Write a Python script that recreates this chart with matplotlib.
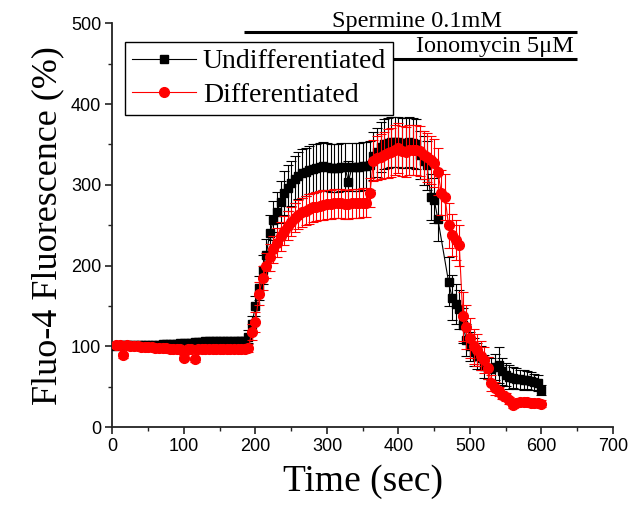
import matplotlib
matplotlib.use("Agg")
import matplotlib.pyplot as plt
from matplotlib.lines import Line2D
from matplotlib.ticker import MultipleLocator

# ---------------- data ----------------
time_d = list(range(5, 601, 5))
time_u = list(range(5, 456, 5)) + list(range(470, 601, 5))

undiff = [100, 101, 101, 101, 101, 101, 102, 102, 102, 102, 102, 102,
          102, 103, 103, 103, 103, 103, 104, 104, 104, 104, 105, 105,
          105, 106, 106, 106, 106, 106, 106, 106, 106, 106, 107, 107, 107,
          112, 128, 150, 172, 195, 213, 240, 256, 266, 279, 290,
          296, 302, 307, 311, 314, 316, 318, 320, 321, 322, 323, 322,
          321, 321, 321, 322, 322, 304, 322, 322, 322, 323, 323, 324,
          336, 340, 347, 350, 352, 353, 353, 353, 352, 352, 353, 352,
          351, 337, 330, 324, 285, 281, 258,
          180, 160, 152, 146, 126, 108, 100, 93, 88, 85, 75, 73, 72, 74, 77,
          69, 65, 62, 61, 60, 59, 58, 58, 57, 56, 55, 46]
undiff_err = [3] * 18 + [4] * 19 + \
             [8, 10, 12, 15, 18, 20, 22, 24, 25, 26, 27,
              28, 28, 29, 29, 30, 30, 30, 30, 30, 30, 30, 30,
              30, 30, 30, 30, 30, 25, 30, 30, 30, 30, 30, 30,
              30, 30, 31, 31, 31, 31, 31, 31, 31, 31, 31, 31,
              31, 30, 30, 30, 28, 28, 28,
              30, 28, 25, 24, 22, 20, 18, 17, 16, 15, 14, 14, 14, 16, 22,
              17, 14, 15, 13, 13, 12, 12, 11, 11, 10, 10, 6]

diff = [102, 101, 89, 101, 100, 100, 100, 99, 99, 99, 99, 98,
        98, 98, 98, 97, 97, 97, 97, 86, 97, 96, 84, 96,
        96, 96, 96, 96, 96, 96, 96, 96, 96, 96, 96, 96, 96,
        98, 118, 130, 165, 185, 200, 210, 220, 228, 236, 243,
        249, 254, 259, 263, 266, 268, 270, 272, 273, 274, 275, 276,
        276, 277, 277, 277, 276, 276, 277, 277, 277, 278, 278, 290,
        330, 333, 335, 337, 339, 340, 343, 345, 342, 341, 343, 343,
        343, 342, 337, 334, 331, 327, 316, 290, 285, 250, 238, 232,
        225, 137, 124, 110, 100, 95, 88, 83, 73, 54, 48, 44,
        40, 37, 33, 27, 30, 31, 31, 31, 30, 30, 30, 29]
diff_err = [3] * 37 + \
           [5, 10, 12, 14, 15, 16, 17, 17, 18, 18, 18] + [18] * 24 + \
           [25, 27, 28, 29, 30, 30, 31, 31, 31, 31, 31, 31,
            31, 31, 30, 30, 30, 30, 29, 28, 28, 28, 26, 25,
            25, 30, 27, 25, 22, 20, 18, 16, 14, 10, 8, 6,
            5, 5, 4, 4, 4, 4, 4, 4, 4, 4, 4, 4]

series_labels = ["Undifferentiated", "Differentiated"]
spermine_span = (184, 649, 489)
ionomycin_span = (355, 649, 456)

x_ticks = [0, 100, 200, 300, 400, 500, 600, 700]
y_ticks = [0, 100, 200, 300, 400, 500]

# ---------------- figure ----------------
fig = plt.figure(figsize=(6.42, 5.09), dpi=100)
ax = fig.add_axes([0.1752, 0.1611, 0.7796, 0.7931])

ax.errorbar(time_u, undiff, yerr=undiff_err, fmt='-s', color='black',
            ms=5.5, lw=0.8, elinewidth=0.8, capsize=3.5, capthick=0.8, zorder=3)
ax.errorbar(time_d, diff, yerr=diff_err, fmt='-o', color='red',
            ms=7, lw=0.8, elinewidth=0.8, capsize=3.5, capthick=0.8, zorder=4)

# treatment bars
ax.plot(spermine_span[:2], [spermine_span[2]] * 2, color='black', lw=2.2,
        clip_on=False, zorder=2, solid_capstyle='butt')
ax.plot(ionomycin_span[:2], [ionomycin_span[2]] * 2, color='black', lw=2.2,
        clip_on=False, zorder=2, solid_capstyle='butt')
ax.text(426, 496, "Spermine 0.1mM", ha='center', va='baseline',
        fontfamily='Liberation Serif', fontsize=17.5, clip_on=False)
ax.text(645, 464, "Ionomycin 5\u03bcM", ha='right', va='baseline',
        fontfamily='Liberation Serif', fontsize=17.5, clip_on=False)

ax.set_xlim(x_ticks[0], x_ticks[-1])
ax.set_ylim(y_ticks[0], y_ticks[-1])
ax.set_xticks(x_ticks)
ax.set_yticks(y_ticks)
ax.xaxis.set_minor_locator(MultipleLocator(50))
ax.yaxis.set_minor_locator(MultipleLocator(50))

for s in ['top', 'right']:
    ax.spines[s].set_visible(False)
for s in ['left', 'bottom']:
    ax.spines[s].set_linewidth(1.3)
    ax.spines[s].set_color('#222222')

ax.tick_params(which='major', direction='out', length=5, width=1.2, color='#222222',
               labelsize=13, pad=3)
ax.tick_params(which='minor', direction='out', length=3, width=1.0, color='#222222')
for lab in ax.get_xticklabels() + ax.get_yticklabels():
    lab.set_fontfamily('Liberation Sans')

ax.set_xlabel("Time (sec)", fontfamily='Liberation Serif', fontsize=27, labelpad=7)
ax.set_ylabel("Fluo-4 Fluorescence (%)", fontfamily='Liberation Serif', fontsize=26, labelpad=5)

handles = [Line2D([], [], color='black', marker='s', ms=5.5, lw=0.8),
           Line2D([], [], color='red', marker='o', ms=7, lw=0.8)]
leg = ax.legend(handles, series_labels, loc='upper left', bbox_to_anchor=(0.025, 0.954),
                prop={'family': 'Liberation Serif', 'size': 20}, frameon=True,
                fancybox=False, edgecolor='black', framealpha=1, borderpad=0.25,
                labelspacing=0.3, handlelength=2.3, handletextpad=0.25,
                borderaxespad=0)
leg.get_frame().set_linewidth(1.0)
leg.set_zorder(10)

fig.savefig("out.png", dpi=100)
